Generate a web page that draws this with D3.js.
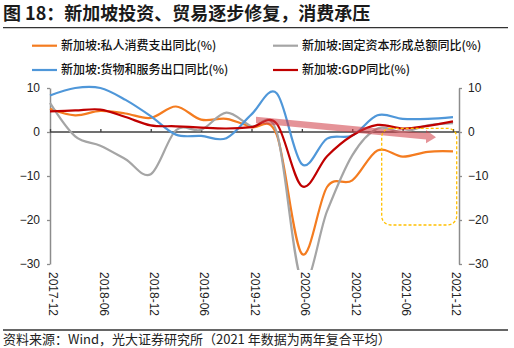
<!DOCTYPE html>
<html>
<head>
<meta charset="utf-8">
<script src="https://cdn.jsdelivr.net/npm/d3@7"></script>
<style>
  body { margin: 0; background: #fff; }
  svg { display: block; }
  text { font-family: "Noto Sans CJK SC", "Noto Sans", sans-serif; }
  .tick text { font-family: "Liberation Sans", Arial, sans-serif; }
</style>
</head>
<body>
<div id="chart"></div>
<script>
// quarterly points, 2017-12 .. 2021-12
const quarters = ["2017-12","2018-03","2018-06","2018-09","2018-12","2019-03","2019-06","2019-09","2019-12",
  "2020-03","2020-06","2020-09","2020-12","2021-03","2021-06","2021-09","2021-12"];
const tickLabels = ["2017-12","2018-06","2018-12","2019-06","2019-12","2020-06","2020-12","2021-06","2021-12"];
const yTicks = [-30, -20, -10, 0, 10];

const consumption = [5.3, 3.8, 4.8, 4.2, 3.2, 5.8, 2.8, 3.0, 1.1, -0.6, -27.7, -12.5, -11.0, -4.2, -5.6, -4.5, -4.4];
const investment  = [6.6, -1.0, -3.1, -6.2, -9.6, 0.4, 0.5, 4.4, 1.3, 0.0, -34.0, -18.0, -5.3, 0.8, 0.0, 1.5, 2.0];
const exports     = [8.3, 10.0, 10.0, 7.3, 3.6, -0.6, -0.9, -1.4, 4.0, 8.8, -7.3, -1.5, -0.8, 3.8, 3.0, 3.0, 3.4];
const gdp         = [4.7, 4.9, 5.1, 3.4, 1.5, 1.3, 1.0, 0.8, 1.1, 1.9, -12.3, -5.5, -0.8, 1.6, 0.8, 1.4, 2.4];

const seriesNames = ["新加坡:私人消费支出同比(%)", "新加坡:固定资本形成总额同比(%)", "新加坡:货物和服务出口同比(%)", "新加坡:GDP同比(%)"];
const seriesValues = [consumption, investment, exports, gdp];
const colors = ["#f47c20", "#a5a5a5", "#4f97d9", "#c00000"];

const W = 514, H = 348;
const svg = d3.select("#chart").append("svg").attr("width", W).attr("height", H);

const x = d3.scalePoint().domain(quarters).range([50, 453]);
const y = d3.scaleLinear().domain([-30, 10]).range([264, 88]);

// title
svg.append("text").attr("x", 3).attr("y", 19.5)
  .attr("font-size", 18).attr("font-weight", "bold").attr("fill", "#1a1a1a")
  .text("图 18：新加坡投资、贸易逐步修复，消费承压");
svg.append("line").attr("x1", 3).attr("x2", 508).attr("y1", 27.7).attr("y2", 27.7)
  .attr("stroke", "#333").attr("stroke-width", 1.3);

// legend
const legendPos = [[32, 45.7], [273, 45.7], [32, 70], [273, 70]];
seriesNames.forEach((name, i) => {
  const [lx, ly] = legendPos[i];
  const g = svg.append("g").attr("transform", `translate(${lx},${ly})`);
  g.append("line").attr("x1", 0).attr("x2", 25).attr("stroke", colors[i]).attr("stroke-width", 2.2);
  g.append("text").attr("x", 29).attr("dy", "0.36em").attr("font-size", 12)
    .attr("font-weight", 500).attr("fill", "#111").text(name);
});

// axes
const axisColor = "#8c8c8c";
const left = svg.append("g").attr("transform", "translate(50,0)")
  .call(d3.axisLeft(y).tickValues(yTicks).tickSize(3).tickSizeOuter(0).tickPadding(7));
const right = svg.append("g").attr("transform", "translate(459,0)")
  .call(d3.axisRight(y).tickValues(yTicks).tickSize(3).tickSizeOuter(0).tickPadding(6));
[left, right].forEach(a => {
  a.select(".domain").attr("stroke", axisColor).attr("stroke-width", 1.5);
  a.selectAll(".tick line").attr("stroke", axisColor).attr("stroke-width", 1.3);
  a.selectAll(".tick text").attr("font-size", 12).attr("fill", "#222");
});

// zero line with small ticks
svg.append("line").attr("x1", 50).attr("x2", 459).attr("y1", y(0)).attr("y2", y(0))
  .attr("stroke", "#404040").attr("stroke-width", 1.3);
const zero = svg.append("g").attr("transform", `translate(0,${y(0)})`)
  .call(d3.axisTop(x).tickValues(tickLabels).tickSize(3).tickFormat(""));
zero.select(".domain").remove();
zero.selectAll(".tick line").attr("stroke", "#404040").attr("stroke-width", 1.3);

// rotated labels at bottom
const bottom = svg.append("g").attr("transform", "translate(0,268)")
  .call(d3.axisBottom(x).tickValues(tickLabels).tickSize(0));
bottom.select(".domain").remove();
bottom.selectAll(".tick text")
  .attr("transform", "rotate(90)")
  .attr("x", 4).attr("y", -3).attr("dy", "0.35em")
  .attr("text-anchor", "start").attr("font-size", 12).attr("fill", "#222");

// series
svg.append("clipPath").attr("id", "plot-clip")
  .append("rect").attr("x", 40).attr("y", 60).attr("width", 430).attr("height", 210);
const line = d3.line()
  .x((d, i) => x(quarters[i]))
  .y(d => y(d))
  .curve(d3.curveCardinal.tension(0));
const lines = svg.append("g").attr("clip-path", "url(#plot-clip)");
seriesValues.forEach((vals, i) => {
  lines.append("path").datum(vals).attr("d", line)
    .attr("fill", "none").attr("stroke", colors[i]).attr("stroke-width", 2.2);
});

// trend arrow
const arrow = [[256, 116.7], [426, 133], [426, 130], [436, 137.3], [426, 143.3], [426, 139.5], [256, 123.3]];
svg.append("polygon").attr("points", arrow.map(p => p.join(",")).join(" "))
  .attr("fill", "#cf3a44").attr("opacity", 0.55);

// highlighted box
svg.append("rect").attr("x", 381.7).attr("y", 128.3).attr("width", 75).attr("height", 96.7)
  .attr("rx", 9).attr("fill", "none").attr("stroke", "#ffc000")
  .attr("stroke-width", 1.3).attr("stroke-dasharray", "3,2");

// footer
svg.append("line").attr("x1", 3).attr("x2", 508).attr("y1", 330).attr("y2", 330)
  .attr("stroke", "#333").attr("stroke-width", 1.3);
svg.append("text").attr("x", 3).attr("y", 344).attr("font-size", 13).attr("fill", "#222")
  .text("资料来源：Wind，光大证券研究所（2021 年数据为两年复合平均）");
</script>
</body>
</html>
